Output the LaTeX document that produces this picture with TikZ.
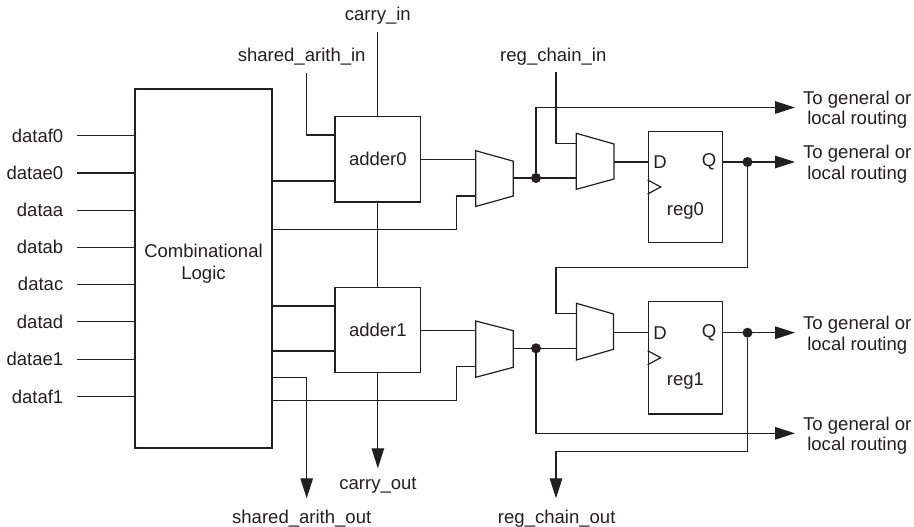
\documentclass[tikz,border=0pt]{standalone}
\usepackage{fontspec}
\setmainfont{Liberation Sans}
\usetikzlibrary{arrows.meta,calc}
\definecolor{ink}{RGB}{35,31,32}
\begin{document}
\begin{tikzpicture}[x=1bp,y=-1bp,
  every node/.style={font=\fontsize{18.6}{20.5}\selectfont, text=ink},
  wire/.style={draw=ink, line width=1.2bp},
  arr/.style={wire, -{Triangle[length=20bp,width=12.5bp]}},
  box/.style={draw=ink, line width=1.2bp, inner sep=0pt, rectangle},
  lbl/.style={inner sep=0pt},
  dot/.style={circle, fill=ink, inner sep=0pt, minimum size=10bp},
  muxs/.style={draw=ink, line width=1.2bp, line join=miter},
]
\useasboundingbox (0,0) rectangle (914,527);

% combinational logic
\node[box, minimum width=137bp, minimum height=359bp] (comb) at (203.5,268.5) {};
\node[lbl, align=center] (combtxt) at (203.5,264) {Combinational\\[1.5bp]Logic};

% inputs
\foreach \t/\y [count=\i] in {dataf0/135.7, datae0/173, dataa/210.3, datab/247.3, datac/284.3, datad/321.7, datae1/359.3, dataf1/396.7} {
  \node[lbl, anchor=east] (in\i) at (63.5,\y) {\t};
  \draw[wire] ([xshift=13.5bp]in\i.east) -- (in\i.east -| comb.west);
}

% adders
\node[box, minimum width=85.7bp, minimum height=85.3bp] (add0) at (377.85,159.35) {adder0};
\node[box, minimum width=85.7bp, minimum height=85.3bp] (add1) at (377.85,330.2) {adder1};

% top labels
\node[lbl] (cin) at (377.85,15.5) {carry\_in};
\coordinate (cinE) at (377.85,31.7);
\draw[wire] (cinE) -- (add0.north);
\node[lbl] (sai) at (301.7,56.7) {shared\_arith\_in};
\coordinate (saiE) at (306.7,72.7);
\draw[wire] (saiE) |- ($(add0.north west)+(0,19)$);
\node[lbl] (rci) at (553.3,56.7) {reg\_chain\_in};
\coordinate (rciE) at (556,72.3);

% comb -> adders
\draw[wire] (comb.east |- 0,181) -- (add0.west |- 0,181);
\draw[wire] (comb.east |- 0,306) -- (add1.west |- 0,306);
\draw[wire] (comb.east |- 0,351) -- (add1.west |- 0,351);
\draw[wire] (add0.south) -- (add1.north);

% muxes
\draw[muxs] (475.7,150.7) -- (513.3,161.2) -- (513.3,196) -- (475.7,206.5) -- cycle;
\draw[muxs] (576.3,133.3) -- (614,144) -- (614,179) -- (576.3,189.3) -- cycle;
\draw[muxs] (475.7,321) -- (513.3,330.7) -- (513.3,367.3) -- (475.7,377.3) -- cycle;
\draw[muxs] (576.5,303.3) -- (613.5,314) -- (613.5,349.3) -- (576.5,360) -- cycle;
\coordinate (m1b) at (475.7,196);
\coordinate (m1o) at (513.3,178);
\coordinate (m2a) at (576.3,143.5);
\coordinate (m2b) at (576.3,178);
\coordinate (m2o) at (614,162);
\coordinate (m3b) at (475.7,366.7);
\coordinate (m3o) at (513.3,348.3);
\coordinate (m4a) at (576.5,313.3);
\coordinate (m4b) at (576.5,348.3);
\coordinate (m4o) at (613.5,332.7);

% registers
\node[box, minimum width=74.4bp, minimum height=111.3bp] (reg0) at (685.5,187.2) {};
\node[box, minimum width=74.4bp, minimum height=112.3bp] (reg1) at (685.5,357.85) {};
\node[lbl] (r0t) at (685.5,211) {reg0};
\node[lbl] (r1t) at (685.5,381.5) {reg1};
\node[lbl] (r0d) at (660,162) {D};
\node[lbl] (r0q) at (709,162) {Q};
\node[lbl] (r1d) at (660,332.7) {D};
\node[lbl] (r1q) at (709,332.7) {Q};
\draw[muxs] (reg0.west |- 0,180) -- (660.7,187) -- (reg0.west |- 0,194);
\draw[muxs] (reg1.west |- 0,350.7) -- (660.7,357.7) -- (reg1.west |- 0,364.7);

% adder0/comb -> mux1
\draw[wire] (add0.east) -- (add0.east -| m1b);
\draw[wire] (comb.east |- 0,229.3) -| (456.7,196) -- (m1b);
% adder1/comb -> mux3
\draw[wire] (add1.east) -- (add1.east -| m3b);
\draw[wire] (comb.east |- 0,400.7) -| (456.7,366.7) -- (m3b);

% routing labels
\coordinate (t1) at (795,107.5);
\coordinate (t2) at (795,162);
\coordinate (t3) at (795,332.7);
\coordinate (t4) at (795,433.3);
\node[lbl, anchor=west, align=center] (rt1) at (803,109.8) {To general or\\local routing};
\node[lbl, anchor=west, align=center] (rt2) at (803,164.3) {To general or\\local routing};
\node[lbl, anchor=west, align=center] (rt3) at (803,335) {To general or\\local routing};
\node[lbl, anchor=west, align=center] (rt4) at (803,435.6) {To general or\\local routing};

% mux1 output, branch
\node[dot] (d1) at (536,178) {};
\draw[wire] (m1o) -- (m2b);
\draw[arr] (d1) |- (t1);
\draw[wire] (rciE) |- (m2a);
\draw[wire] (m2o) -- (reg0.west |- m2o);

% Q0
\node[dot] (q0) at (747.5,162) {};
\draw[arr] (reg0.east |- 0,162) -- (t2);
\draw[wire] (q0) |- (556,267.3) |- (m4a);

% mux3 output, branch
\node[dot] (d3) at (536,348.3) {};
\draw[wire] (m3o) -- (m4b);
\draw[arr] (d3) |- (t4);
\draw[wire] (m4o) -- (reg1.west |- m4o);

% Q1
\node[dot] (q1) at (747.5,332.7) {};
\draw[arr] (reg1.east |- 0,332.7) -- (t3);
\coordinate (rcoE) at (556,498.3);
\draw[arr] (q1) |- (556,451.7) -- (rcoE);
\node[lbl] (rco) at (556.7,518.3) {reg\_chain\_out};

% bottom outputs
\coordinate (saoE) at (306.7,498.3);
\draw[arr] (comb.east |- 0,377.7) -| (saoE);
\node[lbl] (sao) at (301.7,519) {shared\_arith\_out};
\coordinate (coE) at (377.85,468.3);
\draw[arr] (add1.south) -- (coE);
\node[lbl] (co) at (378,485) {carry\_out};
\end{tikzpicture}
\end{document}
